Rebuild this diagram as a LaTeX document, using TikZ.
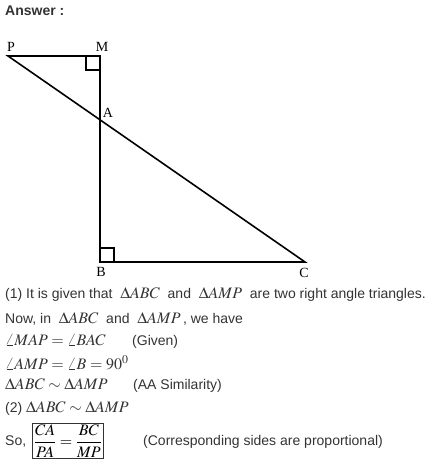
\documentclass[tikz,border=0pt]{standalone}
\usepackage{mathptmx}
\usepackage{amsmath}
\usepackage{fontspec}
\setmainfont{Liberation Serif}
\setsansfont{Liberation Sans}
\usepackage{tikz}

\tikzset{
  txt/.style={anchor=base west,inner sep=0pt,text=black!80,font=\sffamily\fontsize{14}{16}\selectfont},
  pt/.style={inner sep=0pt,font=\rmfamily\fontsize{14}{16}\selectfont}
}
\newcommand{\mth}[1]{{\fontsize{16}{18}\selectfont$#1$}}

\begin{document}
\begin{tikzpicture}[x=1pt,y=-1pt]
        \useasboundingbox (0,0) rectangle (436,470);
        \coordinate (P) at (8,56);
        \coordinate (M) at (100,56);
        \coordinate (B) at (100,262);
        \coordinate (C) at (305,262);
        \coordinate (A) at (intersection of P--C and M--B);
        \draw[line width=1.6pt] (P) -- (M) -- (B) -- (C) -- cycle;
        \draw[line width=1.6pt] (86,56) -- (86,70) -- (100,70);
        \draw[line width=1.6pt] (100,248) -- (114,248) -- (114,262);
        \node[pt] (lP) at (11,47) {P};
        \node[pt] (lM) at (102,47) {M};
        \node[pt] (lA) at (108,113) {A};
        \node[pt] (lB) at (101,272) {B};
        \node[pt] (lC) at (304,273) {C};

        \node[txt,font=\sffamily\bfseries\fontsize{14}{16}\selectfont] (ans) at (5,16) {Answer :};
        \node[txt] (l1) at (5,298) {(1) It is given that \ \mth{\Delta ABC} \ and \ \mth{\Delta AMP} \ are two right angle triangles.};
        \node[txt] (l2) at (5,323) {Now, in \ \mth{\Delta ABC} \ and \ \mth{\Delta AMP}\,, we have};
        \node[txt] (l3) at (5,345) {\mth{\angle MAP=\angle BAC}};
        \node[txt] (g3) at (132,345) {(Given)};
        \node[txt] (l4) at (5,369) {\mth{\angle AMP=\angle B=90^0}};
        \node[txt] (l5) at (5,389) {\mth{\Delta ABC\sim\Delta AMP}};
        \node[txt] (g5) at (133,389) {(AA Similarity)};
        \node[txt] (l6) at (5,412) {(2) \mth{\Delta ABC\sim\Delta AMP}};
        \node[txt] (l7) at (5,445) {So,};
        \node[draw=black!80,line width=0.8pt,inner sep=1.5pt,anchor=west] (frac) at (32,441) {\mth{\dfrac{CA}{PA}=\dfrac{BC}{MP}}};
        \node[txt] (g7) at (143,445) {(Corresponding sides are proportional)};
    \end{tikzpicture}
\end{document}
